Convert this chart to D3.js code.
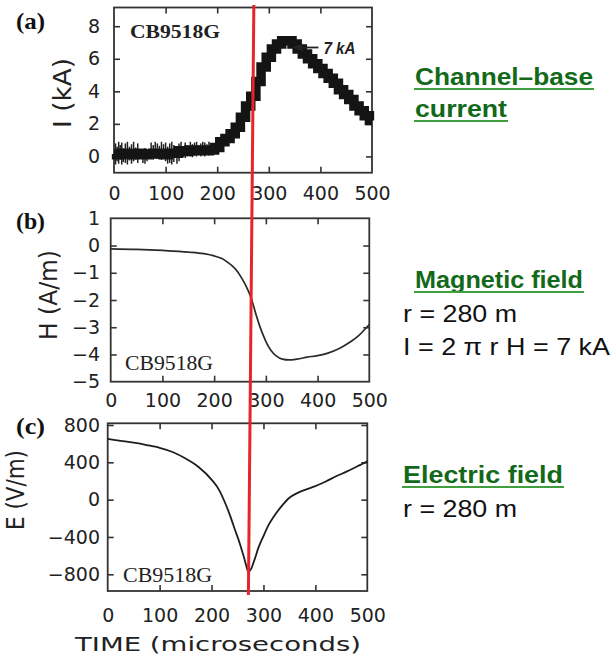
<!DOCTYPE html>
<html>
<head>
<meta charset="utf-8">
<script src="https://cdn.jsdelivr.net/npm/d3@7"></script>
<style>
  html, body { margin: 0; padding: 0; background: #fff; }
  svg { display: block; }
  .tick text { font-family: "DejaVu Sans", sans-serif; font-size: 19px; fill: #222; }
  .tick line { stroke: #333; stroke-width: 1.6; }
</style>
</head>
<body>
<svg id="fig" width="614" height="658"></svg>
<script>
// ---- shared axis ticks ----
const timeTicks = [0, 100, 200, 300, 400, 500];
const currentTicks = [0, 2, 4, 6, 8];
const magneticTicks = [1, 0, -1, -2, -3, -4, -5];
const electricTicks = [800, 400, 0, -400, -800];

// ---- (a) channel-base current, kA ----
const currentTime = [0, 10, 20, 30, 40, 50, 60, 70, 80, 90, 100, 110, 120, 130, 140, 150, 160, 170, 180, 190,
  200, 210, 220, 230, 240, 250, 260, 270, 280, 290, 300, 310, 320, 330, 340, 350, 360, 370, 380, 390,
  400, 410, 420, 430, 440, 450, 460, 470, 480, 490, 500];
const currentKA = [0.15, 0.1, 0.2, 0.15, 0.1, 0.2, 0.1, 0.15, 0.2, 0.15, 0.1, 0.2, 0.2, 0.35, 0.3, 0.4, 0.35, 0.4, 0.35, 0.4,
  0.55, 0.9, 1.1, 1.4, 1.8, 2.4, 3.1, 3.7, 4.6, 5.5, 6.1, 6.6, 6.9, 7.1, 7.1, 6.9, 6.6, 6.3, 6.0, 5.7,
  5.4, 5.1, 4.8, 4.5, 4.1, 3.8, 3.5, 3.1, 2.8, 2.5, 2.2];
// digitizer noise on the pre-stroke baseline: sample time, lowest and highest reading
const noiseTime = [3, 6, 9, 12, 15, 18, 22, 26, 30, 34, 38, 42, 46, 50, 56, 60, 64, 72, 76, 80, 84, 88, 92, 96,
  100, 104, 108, 112, 116, 122, 126, 130, 134, 138, 142, 148, 152, 156, 160, 164, 168, 172, 176, 180, 184, 188, 192];
const noiseHigh = [0.8, 0.6, 0.9, 0.7, 0.85, 0.5, 0.8, 0.9, 0.6, 0.75, 0.9, 0.55, 0.8, 0.4, 0.3, 0.5, 0.35,
  0.85, 0.7, 0.9, 0.8, 0.65, 0.9, 0.75, 0.85, 0.6, 0.8, 0.9, 0.7, 0.5, 0.8, 0.9, 0.6, 0.85, 0.7,
  0.9, 0.75, 0.85, 0.9, 0.7, 0.8, 0.9, 0.85, 0.75, 0.9, 0.8, 0.7];
const noiseLow = [-0.5, -0.3, -0.45, -0.2, -0.5, -0.35, -0.4, -0.5, -0.25, -0.45, -0.3, -0.2, -0.4, -0.1, -0.4, -0.45, -0.3,
  -0.1, -0.2, -0.1, -0.15, -0.05, -0.2, -0.1, -0.3, -0.45, -0.4, -0.5, -0.35, -0.45, -0.3, -0.1, -0.05, -0.1, 0,
  0, -0.05, 0.05, 0, 0.1, 0, 0.05, 0, 0.1, 0.05, 0.1, 0.15];
const currentPeakKA = 7;
const currentPeakTime = 338;

// ---- (b) magnetic field, A/m ----
const magneticTime = [0, 50, 100, 150, 180, 200, 215, 225, 235, 245, 255, 262, 270, 276, 282, 288, 295, 302, 310, 320,
  332, 345, 360, 380, 400, 420, 440, 460, 480, 495, 500];
const magneticAm = [-0.12, -0.14, -0.18, -0.24, -0.3, -0.38, -0.48, -0.6, -0.75, -0.95, -1.25, -1.5, -1.85, -2.2, -2.6, -2.95, -3.3, -3.6, -3.85, -4.05,
  -4.17, -4.2, -4.17, -4.1, -4.04, -3.95, -3.8, -3.58, -3.3, -3.0, -2.9];

// ---- (c) electric field, V/m ----
const electricTime = [0, 25, 50, 75, 100, 125, 150, 175, 200, 215, 225, 235, 245, 255, 262, 267, 271, 276, 283, 290,
  300, 310, 320, 335, 350, 365, 380, 400, 420, 440, 460, 480, 495, 500];
const electricVm = [650, 630, 610, 585, 555, 510, 440, 350, 215, 100, -20, -160, -320, -480, -610, -710, -775, -745, -640, -520,
  -390, -270, -180, -70, 20, 70, 105, 145, 195, 250, 300, 355, 395, 410];

// ---- annotations ----
const stationName = "CB9518G";
const markerTime = 271;   // instant highlighted across all three records
const panelTags = ["(a)", "(b)", "(c)"];

const svg = d3.select("#fig");
const intFormat = d3.format("d");

// frame geometry of the three stacked records
const panels = [
  { tag: panelTags[0], x0: 114, x1: 372, y0: 7.5, y1: 172.7, domain: [-1.0, 9.15], ticks: currentTicks,
    xPad: 13.5, yPad: 14, title: "I (kA)", titleX: 63, titleY: 93, titleLen: 70, tagY: 29 },
  { tag: panelTags[1], x0: 110.7, x1: 369.3, y0: 218.3, y1: 381.7, domain: [-5, 1], ticks: magneticTicks,
    xPad: 11.5, yPad: 10.7, title: "H (A/m)", titleX: 49, titleY: 295, titleLen: 90, tagY: 229 },
  { tag: panelTags[2], x0: 107.7, x1: 367.3, y0: 423.3, y1: 591, domain: [-979, 818], ticks: electricTicks,
    xPad: 18, yPad: 7.7, title: "E (V/m)", titleX: 16, titleY: 490, titleLen: 80, tagY: 434 }
];

panels.forEach(p => {
  p.x = d3.scaleLinear().domain([0, 500]).range([p.x0, p.x1]);
  p.y = d3.scaleLinear().domain(p.domain).range([p.y1, p.y0]);
  const w = p.x1 - p.x0, h = p.y1 - p.y0;
  const inner = timeTicks.filter(t => t > 0 && t < 500);
  const innerY = p.ticks.filter(v => v > p.domain[0] + 1e-6 && v < p.domain[1] - 1e-6);

  // bottom axis with labels, ticks pointing inward
  svg.append("g").attr("transform", `translate(0,${p.y1})`)
    .call(d3.axisBottom(p.x).tickValues(timeTicks).tickFormat(intFormat)
      .tickSizeInner(-6).tickSizeOuter(0).tickPadding(p.xPad))
    .call(g => g.select(".domain").remove())
    .call(g => g.selectAll(".tick line").filter(d => !inner.includes(d)).remove());
  // top axis, ticks only
  svg.append("g").attr("transform", `translate(0,${p.y0})`)
    .call(d3.axisTop(p.x).tickValues(inner).tickSizeInner(-6).tickSizeOuter(0).tickFormat(""))
    .call(g => g.select(".domain").remove());
  // left axis with labels
  svg.append("g").attr("transform", `translate(${p.x0},0)`)
    .call(d3.axisLeft(p.y).tickValues(p.ticks).tickFormat(intFormat)
      .tickSizeInner(-6).tickSizeOuter(0).tickPadding(p.yPad))
    .call(g => g.select(".domain").remove())
    .call(g => g.selectAll(".tick line").filter(d => !innerY.includes(d)).remove());
  // right axis, ticks only
  svg.append("g").attr("transform", `translate(${p.x1},0)`)
    .call(d3.axisRight(p.y).tickValues(innerY).tickSizeInner(-6).tickSizeOuter(0).tickFormat(""))
    .call(g => g.select(".domain").remove());

  svg.append("rect").attr("x", p.x0).attr("y", p.y0).attr("width", w).attr("height", h)
    .attr("fill", "none").attr("stroke", "#333").attr("stroke-width", 1.8);

  svg.append("text")
    .attr("transform", `translate(${p.titleX},${p.titleY}) rotate(-90)`)
    .attr("text-anchor", "middle").attr("dominant-baseline", "central")
    .attr("textLength", p.titleLen).attr("lengthAdjust", "spacingAndGlyphs")
    .style("font-family", "DejaVu Sans, sans-serif").style("font-size", "24px").style("fill", "#222")
    .text(p.title);

  svg.append("text").attr("x", 16).attr("y", p.tagY)
    .attr("textLength", 29).attr("lengthAdjust", "spacingAndGlyphs")
    .style("font-family", "Liberation Serif, serif").style("font-weight", "bold").style("font-size", "24px")
    .style("fill", "#111").text(p.tag);
});

const [pa, pb, pc] = panels;

// (a) current record: coarse digitized samples drawn as a heavy staircase
svg.append("g").selectAll("line").data(noiseTime).join("line")
  .attr("x1", d => pa.x(d)).attr("x2", d => pa.x(d))
  .attr("y1", (d, i) => pa.y(noiseLow[i])).attr("y2", (d, i) => pa.y(noiseHigh[i]))
  .attr("stroke", "#222").attr("stroke-width", 1.5);
svg.append("path")
  .datum(currentTime.map((t, i) => [t, currentKA[i]]))
  .attr("d", d3.line().x(d => pa.x(d[0])).y(d => pa.y(d[1])).curve(d3.curveStep))
  .attr("fill", "none").attr("stroke", "#141414").attr("stroke-width", 9.5).attr("stroke-linejoin", "miter");

// (b) and (c) smooth field records
svg.append("path")
  .datum(magneticTime.map((t, i) => [t, magneticAm[i]]))
  .attr("d", d3.line().x(d => pb.x(d[0])).y(d => pb.y(d[1])).curve(d3.curveMonotoneX))
  .attr("fill", "none").attr("stroke", "#2a2a2a").attr("stroke-width", 1.7);
svg.append("path")
  .datum(electricTime.map((t, i) => [t, electricVm[i]]))
  .attr("d", d3.line().x(d => pc.x(d[0])).y(d => pc.y(d[1])).curve(d3.curveMonotoneX))
  .attr("fill", "none").attr("stroke", "#1e1e1e").attr("stroke-width", 1.8);

// station labels
svg.append("text").attr("x", 130).attr("y", 38)
  .attr("textLength", 90).attr("lengthAdjust", "spacingAndGlyphs")
  .style("font-family", "Liberation Serif, serif").style("font-weight", "bold").style("font-size", "19px")
  .style("fill", "#222").text(stationName);
svg.append("text").attr("x", 125).attr("y", 370)
  .attr("textLength", 88).attr("lengthAdjust", "spacingAndGlyphs")
  .style("font-family", "Liberation Serif, serif").style("font-size", "20px")
  .style("fill", "#222").text(stationName);
svg.append("text").attr("x", 123).attr("y", 582)
  .attr("textLength", 89).attr("lengthAdjust", "spacingAndGlyphs")
  .style("font-family", "Liberation Serif, serif").style("font-size", "20px")
  .style("fill", "#222").text(stationName);

// peak annotation with arrow
const arrowY = pa.y(currentPeakKA) + 5;
svg.append("line").attr("x1", pa.x(currentPeakTime) + 30).attr("x2", pa.x(currentPeakTime) + 12)
  .attr("y1", arrowY).attr("y2", arrowY).attr("stroke", "#222").attr("stroke-width", 1.8);
svg.append("path")
  .attr("d", `M${pa.x(currentPeakTime) + 4},${arrowY} l10,-4 l0,8 z`).attr("fill", "#222");
svg.append("text").attr("x", pa.x(currentPeakTime) + 35).attr("y", arrowY + 7)
  .attr("textLength", 32).attr("lengthAdjust", "spacingAndGlyphs")
  .style("font-family", "Liberation Sans, sans-serif").style("font-style", "italic").style("font-weight", "bold")
  .style("font-size", "16px").style("fill", "#222").text(`${currentPeakKA} kA`);

// x-axis title
svg.append("text").attr("x", 218).attr("y", 651).attr("text-anchor", "middle")
  .attr("textLength", 286).attr("lengthAdjust", "spacingAndGlyphs")
  .style("font-family", "DejaVu Sans, sans-serif").style("font-size", "20px").style("fill", "#222")
  .text("TIME (microseconds)");

// highlighted instant across all panels
svg.append("line")
  .attr("x1", pa.x(markerTime)).attr("y1", 5)
  .attr("x2", pc.x(markerTime)).attr("y2", 595)
  .attr("stroke", "#e8232b").attr("stroke-width", 3);

// side captions
const green = "#12691a", underline = "#3f9f3f";
function heading(x, y, text, len) {
  svg.append("text").attr("x", x).attr("y", y)
    .attr("textLength", len).attr("lengthAdjust", "spacingAndGlyphs")
    .style("font-family", "Liberation Sans, Arial, sans-serif").style("font-weight", "bold")
    .style("font-size", "24px").style("fill", green).text(text);
  svg.append("line").attr("x1", x - 1).attr("x2", x + len + 1).attr("y1", y + 4).attr("y2", y + 4)
    .attr("stroke", underline).attr("stroke-width", 2);
}
function plain(x, y, text, len) {
  svg.append("text").attr("x", x).attr("y", y)
    .attr("textLength", len).attr("lengthAdjust", "spacingAndGlyphs")
    .style("font-family", "Liberation Sans, Arial, sans-serif")
    .style("font-size", "24px").style("fill", "#111").text(text);
}
heading(415, 85, "Channel–base", 178);
heading(415, 117, "current", 92);
heading(415, 288, "Magnetic field", 168);
plain(403, 322, "r = 280 m", 114);
plain(403, 355, "I = 2 π r H = 7 kA", 207);
heading(403, 483, "Electric field", 160);
plain(403, 517, "r = 280 m", 114);
</script>
</body>
</html>
